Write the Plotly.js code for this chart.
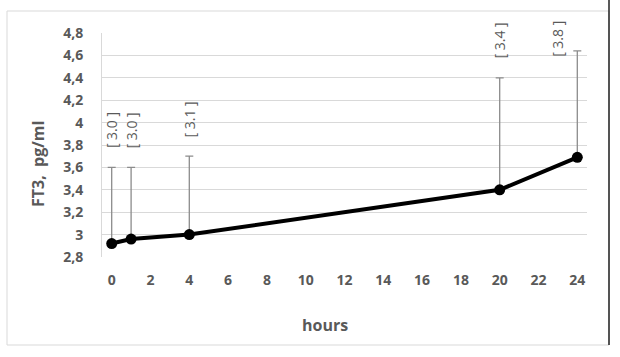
<!DOCTYPE html>
<html>
<head>
<meta charset="utf-8">
<script src="https://cdn.plot.ly/plotly-3.0.1.min.js"></script>
<style>html,body{margin:0;padding:0;background:#fff;}#chart{width:620px;height:357px;}</style>
</head>
<body>
<div id="chart"></div>
<script>
// Data
var hours = [0, 1, 4, 20, 24];
var ft3Mean = [2.92, 2.96, 3.00, 3.40, 3.69];
var ft3Upper = [3.60, 3.60, 3.70, 4.40, 4.64];
var bracketLabels = ['[ 3.0 ]', '[ 3.0 ]', '[ 3.1 ]', '[ 3.4 ]', '[ 3.8 ]'];
var xTickVals = [0, 2, 4, 6, 8, 10, 12, 14, 16, 18, 20, 22, 24];

var W = 620, H = 357;
var L = 102, R = 33, T = 33, B = 100;
var pw = W - L - R, ph = H - T - B;
function px(x) { return (x - L) / pw; }
function py(y) { return (H - B - y) / ph; }

var grey = '#595959';
var font = '"Open Sans", Lato, sans-serif';

var trace = {
  x: hours,
  y: ft3Mean,
  type: 'scatter',
  mode: 'lines+markers',
  line: {color: '#000000', width: 4},
  marker: {color: '#000000', size: 11},
  error_y: {
    type: 'data',
    symmetric: false,
    array: ft3Upper.map(function (u, i) { return u - ft3Mean[i]; }),
    arrayminus: ft3Mean.map(function () { return 0; }),
    color: '#8c8c8c',
    thickness: 1.3,
    width: 4
  },
  hoverinfo: 'none'
};

var annotations = hours.map(function (h, i) {
  var capped = ft3Upper[i] > 4.5;
  return {
    x: h, y: capped ? 4.42 : ft3Upper[i],
    xref: 'x', yref: 'y',
    text: bracketLabels[i].replace(/ /g, '&nbsp;'),
    textangle: -90,
    showarrow: false,
    xanchor: 'center', yanchor: 'bottom',
    yshift: 17,
    xshift: capped ? -20 : 0,
    font: {family: font, size: 14, color: grey}
  };
});
annotations.push({
  x: px(325), y: py(325), xref: 'paper', yref: 'paper',
  text: '<b>hours</b>', showarrow: false,
  xanchor: 'center', yanchor: 'middle',
  font: {family: font, size: 16, color: grey}
});
annotations.push({
  x: px(38), y: py(164), xref: 'paper', yref: 'paper',
  text: '<b>FT3,&nbsp;&nbsp;pg/ml</b>', showarrow: false, textangle: -90,
  xanchor: 'center', yanchor: 'middle',
  font: {family: font, size: 16, color: grey}
});

var shapes = [
  {type: 'rect', xref: 'paper', yref: 'paper',
   x0: px(7), x1: px(609), y0: py(345), y1: py(11),
   line: {color: '#d9d9d9', width: 1}, layer: 'below'},
  {type: 'line', xref: 'paper', yref: 'paper',
   x0: px(609), x1: px(609), y0: py(345), y1: py(0),
   line: {color: '#222222', width: 1.5}}
];

var layout = {
  width: W, height: H,
  margin: {l: L, r: R, t: T, b: B, pad: 0},
  paper_bgcolor: '#ffffff', plot_bgcolor: '#ffffff',
  separators: ',.',
  showlegend: false,
  xaxis: {
    range: [-0.5, 24.5],
    tickvals: xTickVals,
    showgrid: false, zeroline: false, showline: false,
    ticks: '', ticklabelstandoff: 13,
    tickfont: {family: font, size: 14, color: grey, weight: 'bold'}
  },
  yaxis: {
    range: [2.8, 4.8],
    dtick: 0.2, tick0: 2.8,
    showgrid: true, gridcolor: '#d9d9d9', gridwidth: 1,
    zeroline: false,
    showline: true, linecolor: '#d9d9d9', linewidth: 1,
    ticks: '', ticklabelstandoff: 15,
    tickfont: {family: font, size: 14, color: grey, weight: 'bold'}
  },
  annotations: annotations,
  shapes: shapes
};

Plotly.newPlot('chart', [trace], layout, {staticPlot: true, displayModeBar: false});
</script>
</body>
</html>
